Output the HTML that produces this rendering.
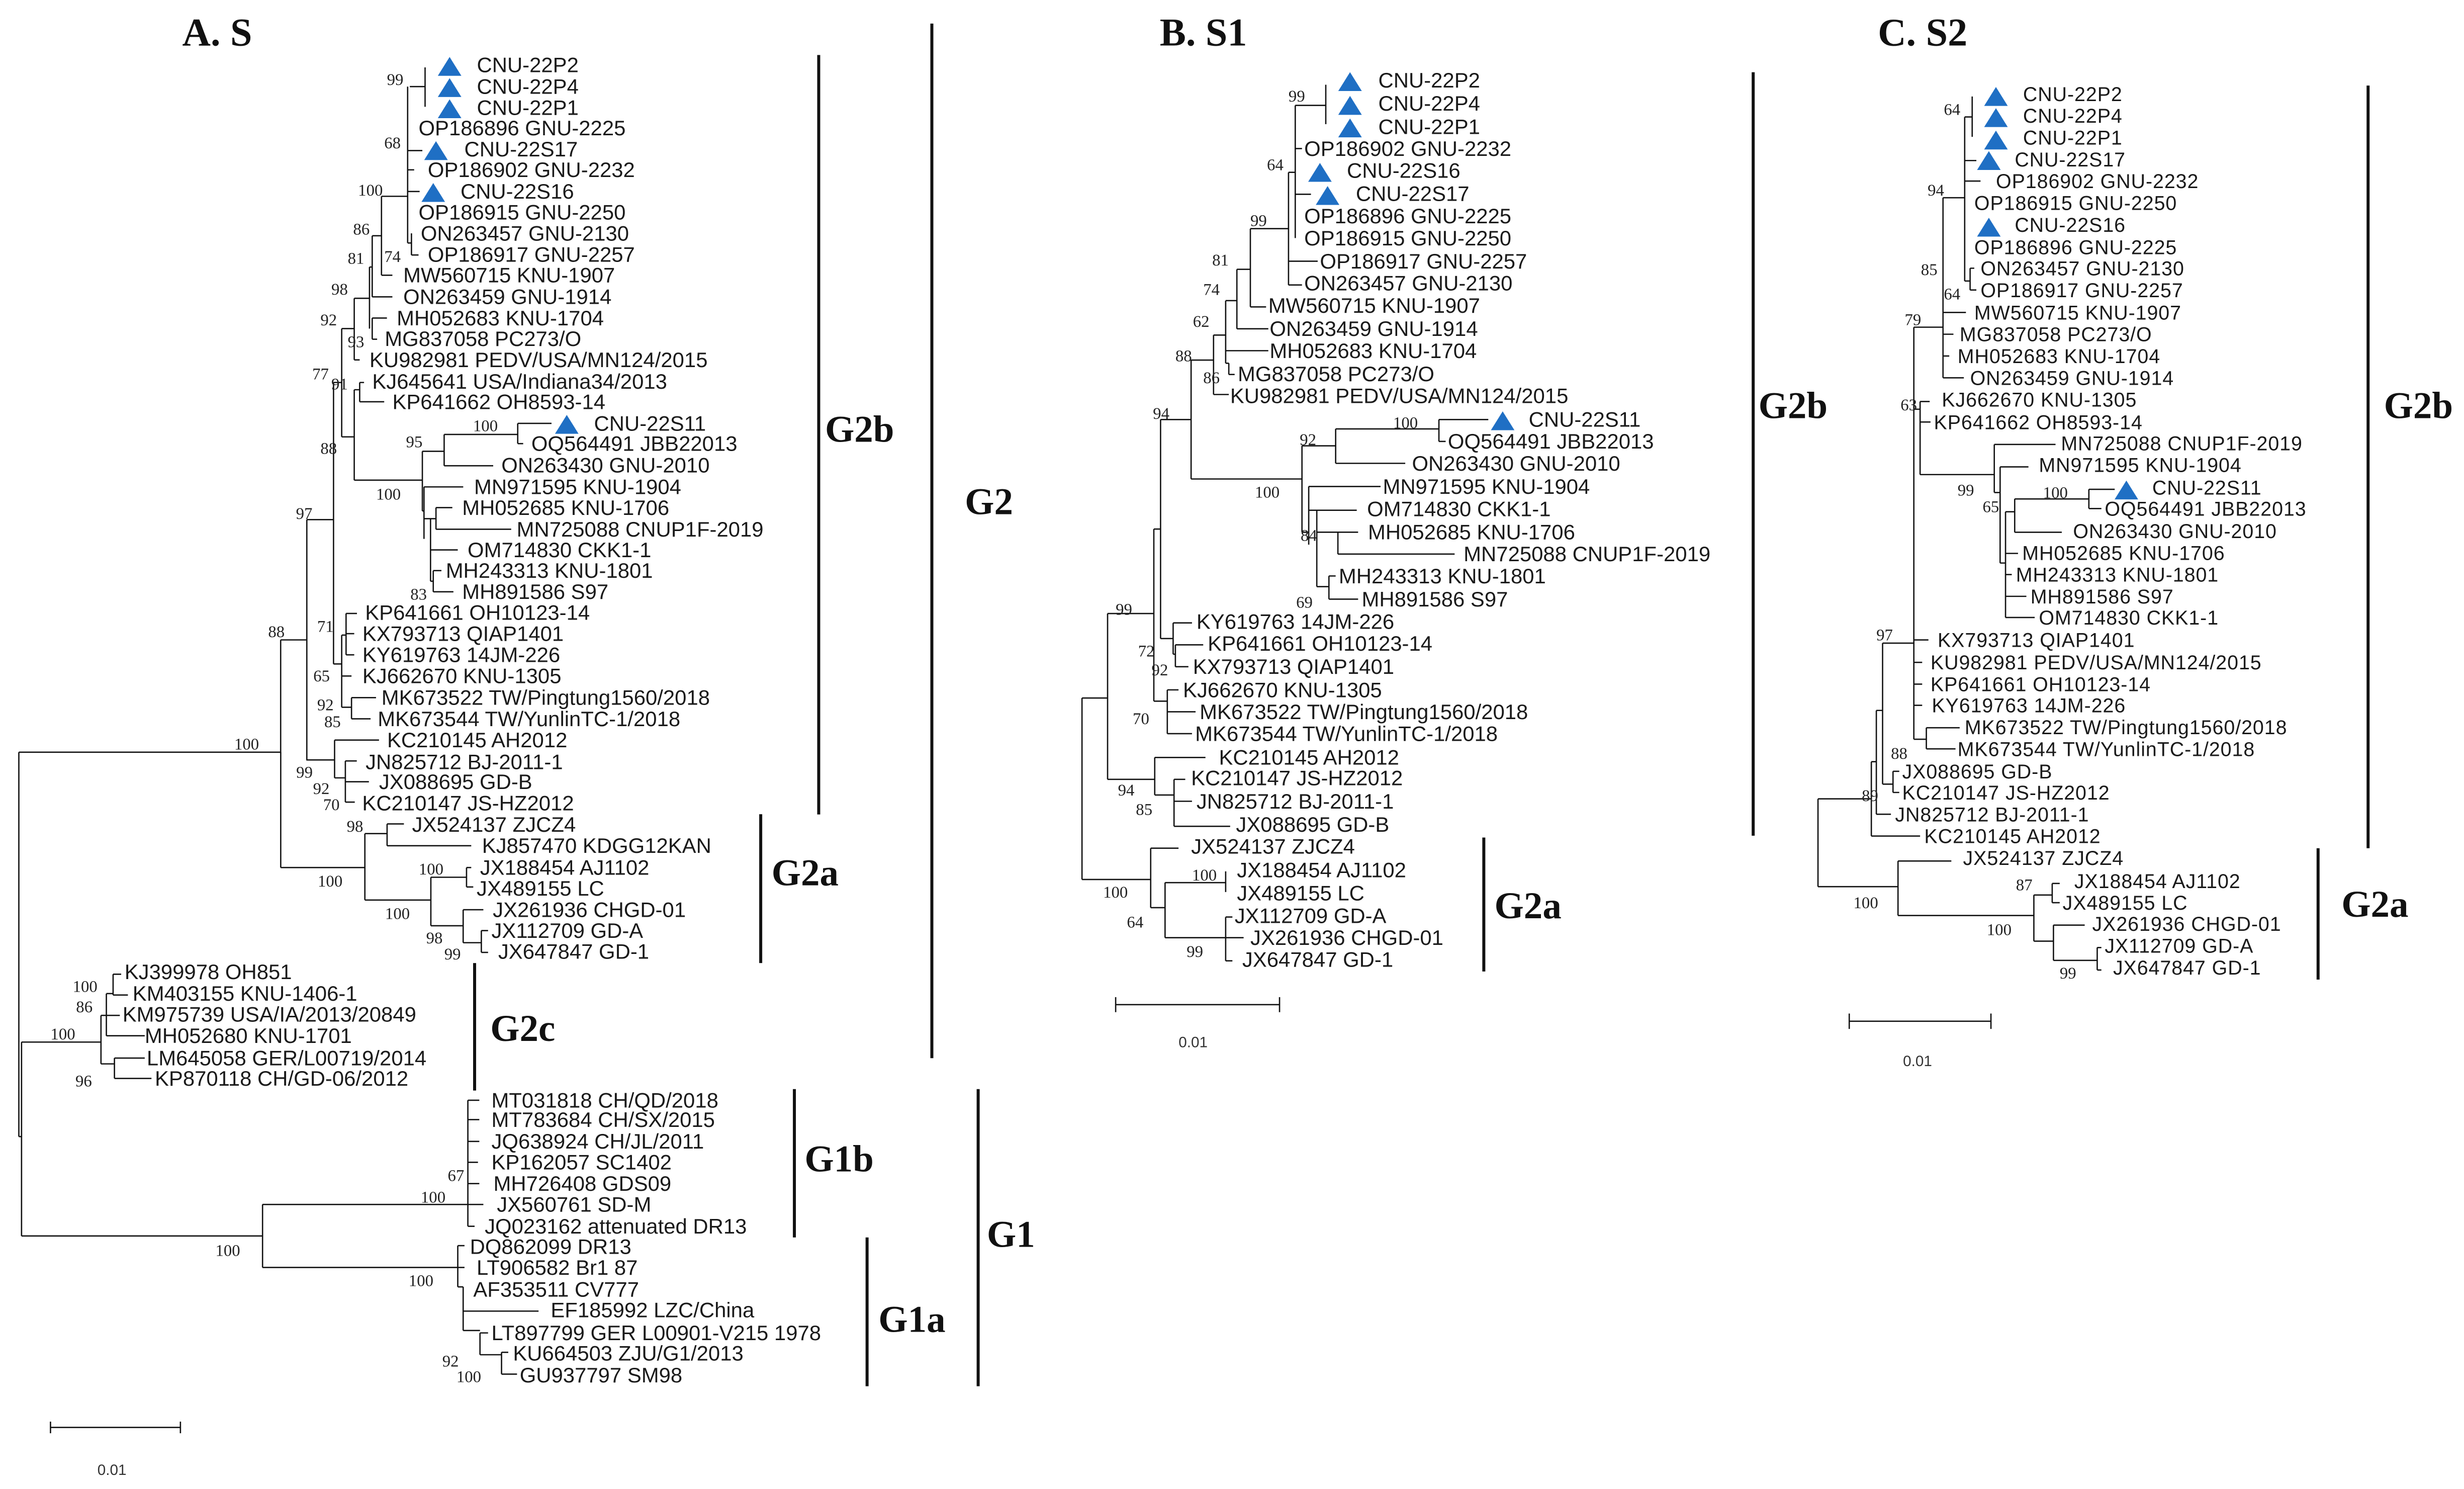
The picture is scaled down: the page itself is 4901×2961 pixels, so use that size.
<!DOCTYPE html>
<html><head><meta charset="utf-8"><style>
html,body{margin:0;padding:0;background:#fff}
svg{display:block}
path{fill:none;stroke:#111;stroke-width:2.6;vector-effect:non-scaling-stroke}
path.bar{stroke-width:6}
.t{font-family:"Liberation Sans",sans-serif;font-size:13.4px;fill:#1a1a1a}
.tc{font-family:"Liberation Sans",sans-serif;font-size:12.6px;fill:#1a1a1a;letter-spacing:0.3px}
.b{font-family:"Liberation Serif",serif;font-size:10.5px;fill:#222}
.g{font-family:"Liberation Serif",serif;font-size:24px;font-weight:bold;fill:#111}
.h{font-family:"Liberation Serif",serif;font-size:25px;font-weight:bold;fill:#111}
.s{font-family:"Liberation Sans",sans-serif;font-size:9.5px;fill:#333}
polygon{fill:#1f6fc4}
</style></head><body>
<svg width="4901" height="2961" viewBox="0 0 1568 947" preserveAspectRatio="none" xmlns="http://www.w3.org/2000/svg">
<rect width="1568" height="947" fill="#fff"/>
<!-- titles -->
<text class="h" x="116" y="29">A. S</text>
<text class="h" x="738" y="29">B. S1</text>
<text class="h" x="1195" y="29">C. S2</text>

<!-- Panel A main coord items -->
<path class="bar" d="M521 35V518 M593 15V673"/>
<text class="g" x="525" y="281">G2b</text>
<text class="g" x="614" y="327">G2</text>
<text class="g" x="491" y="563">G2a</text>
<text class="g" x="312" y="662">G2c</text>
<text class="g" x="512" y="745">G1b</text>
<text class="g" x="628" y="793">G1</text>
<text class="g" x="559" y="847">G1a</text>
<text class="s" x="62" y="938">0.01</text>
<text class="s" x="750" y="666">0.01</text>
<text class="s" x="1211" y="678">0.01</text>
<text class="g" x="1119" y="266">G2b</text>
<text class="g" x="951" y="584">G2a</text>
<text class="g" x="1517" y="266">G2b</text>
<text class="g" x="1490" y="583">G2a</text>

<!-- Panel A top (zoom1 coords) -->
<g transform="scale(0.3468 0.306)">
<path d="M780 140V222 M752 180H780 M748 180V505 M748 353H760 M748 313H775 M748 398H770 M755 485V530 M755 530H768 M748 505H755
M700 408V572 M700 408H748 M700 572H720 M683 490V617 M683 490H700 M683 617H720
M678 555V683 M678 555H683 M683 661V705 M683 661H710 M683 705H692
M650 620V748 M650 620H678 M650 748H660 M627 683V908 M627 683H650 M627 908H650
M650 810V998 M650 810H660 M660 795V835 M660 795H668 M660 835H705 M650 998H775
M775 938V1062 M775 938H815 M775 1062H778 M815 903V968 M815 903H950 M815 968H905
M950 880V922 M950 880H1012 M950 922H960
M778 1012V1120 M778 1012H850 M778 1078H790 M790 1078V1208 M790 1078H800 M800 1055V1100 M800 1055H830 M800 1100H938 M790 1143H840 M790 1208H795 M795 1186V1230 M795 1186H810 M795 1230H832
M612 795V1380 M612 795H627 M612 1380H627
M627 1320V1470 M627 1320H635 M635 1275V1361 M635 1275H655 M635 1317H650 M635 1361H650 M627 1405H645 M627 1470H645 M645 1450V1494 M645 1450H690 M645 1494H680
M563 1080V1579 M563 1080H612 M515 1330V1566 M515 1330H563"/>
<g>
<polygon transform="translate(825 138) scale(2.883 3.268)" points="-7.5,6 7.5,6 0,-6"/>
<polygon transform="translate(825 182) scale(2.883 3.268)" points="-7.5,6 7.5,6 0,-6"/>
<polygon transform="translate(825 226) scale(2.883 3.268)" points="-7.5,6 7.5,6 0,-6"/>
<polygon transform="translate(800 313) scale(2.883 3.268)" points="-7.5,6 7.5,6 0,-6"/>
<polygon transform="translate(795 400) scale(2.883 3.268)" points="-7.5,6 7.5,6 0,-6"/>
<polygon transform="translate(1040 882) scale(2.883 3.268)" points="-7.5,6 7.5,6 0,-6"/>
</g>
<text class="t" transform="translate(875 135) scale(2.883 3.268)" y="4.6">CNU-22P2</text>
<text class="t" transform="translate(875 180) scale(2.883 3.268)" y="4.6">CNU-22P4</text>
<text class="t" transform="translate(875 224) scale(2.883 3.268)" y="4.6">CNU-22P1</text>
<text class="t" transform="translate(768 266) scale(2.883 3.268)" y="4.6">OP186896 GNU-2225</text>
<text class="t" transform="translate(852 310) scale(2.883 3.268)" y="4.6">CNU-22S17</text>
<text class="t" transform="translate(785 353) scale(2.883 3.268)" y="4.6">OP186902 GNU-2232</text>
<text class="t" transform="translate(845 398) scale(2.883 3.268)" y="4.6">CNU-22S16</text>
<text class="t" transform="translate(768 441) scale(2.883 3.268)" y="4.6">OP186915 GNU-2250</text>
<text class="t" transform="translate(772 485) scale(2.883 3.268)" y="4.6">ON263457 GNU-2130</text>
<text class="t" transform="translate(785 529) scale(2.883 3.268)" y="4.6">OP186917 GNU-2257</text>
<text class="t" transform="translate(740 572) scale(2.883 3.268)" y="4.6">MW560715 KNU-1907</text>
<text class="t" transform="translate(740 617) scale(2.883 3.268)" y="4.6">ON263459 GNU-1914</text>
<text class="t" transform="translate(728 661) scale(2.883 3.268)" y="4.6">MH052683 KNU-1704</text>
<text class="t" transform="translate(706 704) scale(2.883 3.268)" y="4.6">MG837058 PC273/O</text>
<text class="t" transform="translate(678 748) scale(2.883 3.268)" y="4.6">KU982981 PEDV/USA/MN124/2015</text>
<text class="t" transform="translate(683 793) scale(2.883 3.268)" y="4.6">KJ645641 USA/Indiana34/2013</text>
<text class="t" transform="translate(720 835) scale(2.883 3.268)" y="4.6">KP641662 OH8593-14</text>
<text class="t" transform="translate(1090 880) scale(2.883 3.268)" y="4.6">CNU-22S11</text>
<text class="t" transform="translate(975 922) scale(2.883 3.268)" y="4.6">OQ564491 JBB22013</text>
<text class="t" transform="translate(920 967) scale(2.883 3.268)" y="4.6">ON263430 GNU-2010</text>
<text class="t" transform="translate(870 1012) scale(2.883 3.268)" y="4.6">MN971595 KNU-1904</text>
<text class="t" transform="translate(848 1055) scale(2.883 3.268)" y="4.6">MH052685 KNU-1706</text>
<text class="t" transform="translate(948 1100) scale(2.883 3.268)" y="4.6">MN725088 CNUP1F-2019</text>
<text class="t" transform="translate(858 1143) scale(2.883 3.268)" y="4.6">OM714830 CKK1-1</text>
<text class="t" transform="translate(818 1186) scale(2.883 3.268)" y="4.6">MH243313 KNU-1801</text>
<text class="t" transform="translate(848 1230) scale(2.883 3.268)" y="4.6">MH891586 S97</text>
<text class="t" transform="translate(670 1273) scale(2.883 3.268)" y="4.6">KP641661 OH10123-14</text>
<text class="t" transform="translate(665 1317) scale(2.883 3.268)" y="4.6">KX793713 QIAP1401</text>
<text class="t" transform="translate(665 1361) scale(2.883 3.268)" y="4.6">KY619763 14JM-226</text>
<text class="t" transform="translate(665 1405) scale(2.883 3.268)" y="4.6">KJ662670 KNU-1305</text>
<text class="t" transform="translate(700 1450) scale(2.883 3.268)" y="4.6">MK673522 TW/Pingtung1560/2018</text>
<text class="t" transform="translate(693 1494) scale(2.883 3.268)" y="4.6">MK673544 TW/YunlinTC-1/2018</text>
<text class="b" transform="translate(710 165) scale(2.883 3.268)" y="3.5">99</text>
<text class="b" transform="translate(705 297) scale(2.883 3.268)" y="3.5">68</text>
<text class="b" transform="translate(657 395) scale(2.883 3.268)" y="3.5">100</text>
<text class="b" transform="translate(648 476) scale(2.883 3.268)" y="3.5">86</text>
<text class="b" transform="translate(638 537) scale(2.883 3.268)" y="3.5">81</text>
<text class="b" transform="translate(705 533) scale(2.883 3.268)" y="3.5">74</text>
<text class="b" transform="translate(608 601) scale(2.883 3.268)" y="3.5">98</text>
<text class="b" transform="translate(588 665) scale(2.883 3.268)" y="3.5">92</text>
<text class="b" transform="translate(638 710) scale(2.883 3.268)" y="3.5">93</text>
<text class="b" transform="translate(573 777) scale(2.883 3.268)" y="3.5">77</text>
<text class="b" transform="translate(608 798) scale(2.883 3.268)" y="3.5">91</text>
<text class="b" transform="translate(588 932) scale(2.883 3.268)" y="3.5">88</text>
<text class="b" transform="translate(745 918) scale(2.883 3.268)" y="3.5">95</text>
<text class="b" transform="translate(868 885) scale(2.883 3.268)" y="3.5">100</text>
<text class="b" transform="translate(690 1027) scale(2.883 3.268)" y="3.5">100</text>
<text class="b" transform="translate(543 1067) scale(2.883 3.268)" y="3.5">97</text>
<text class="b" transform="translate(753 1235) scale(2.883 3.268)" y="3.5">83</text>
<text class="b" transform="translate(582 1302) scale(2.883 3.268)" y="3.5">71</text>
<text class="b" transform="translate(575 1405) scale(2.883 3.268)" y="3.5">65</text>
<text class="b" transform="translate(582 1465) scale(2.883 3.268)" y="3.5">92</text>
<text class="b" transform="translate(595 1500) scale(2.883 3.268)" y="3.5">85</text>
<text class="b" transform="translate(492 1313) scale(2.883 3.268)" y="3.5">88</text>
</g>

<!-- Panel A bottom (zoom2 coords) -->
<g transform="translate(0 463.9) scale(0.4284 0.3083)">
<path d="M28 47V840 M28 47H417 M28 840H32 M32 645V1045 M32 645H150 M32 1045H390
M417 47V285 M417 285H542
M455 63H497 M497 22V100 M497 22H563 M497 100H513 M513 65V150 M513 65H530 M513 108H548 M513 150H527
M542 215V352 M542 215H575 M575 195V240 M575 195H600 M575 240H700 M542 352H640 M640 305V405 M640 305H693 M693 285V325 M693 285H700 M693 325H703 M640 405H688 M688 372V440 M688 372H718 M688 440H715 M715 415V460 M715 415H725 M715 460H725
M150 590V690 M150 590H158 M158 545V632 M158 545H168 M168 505V548 M168 505H180 M168 548H190 M158 590H178 M158 632H215 M150 690H170 M170 678V720 M170 678H215 M170 720H225
M390 980V1110 M390 980H695 M695 765V1025 M695 765H712 M695 805H712 M695 850H712 M695 893H710 M695 937H712 M695 980H718 M695 1025H705 M390 1110H680 M680 1065V1150 M680 1065H690 M680 1110H690 M680 1150H688 M688 1150V1240 M688 1200H800 M688 1240H713 M713 1245V1290 M713 1245H725 M713 1290H745 M745 1285V1330 M745 1285H755 M745 1330H768
M75 1440H268 M75 1428V1452 M268 1428V1452"/>
<path class="bar" d="M1130 175V482 M705 482V745 M1180 742V1048 M1288 1048V1355 M1453 742V1355"/>
<text class="t" transform="translate(575 22) scale(2.334 3.244)" y="4.6">KC210145 AH2012</text>
<text class="t" transform="translate(543 67) scale(2.334 3.244)" y="4.6">JN825712 BJ-2011-1</text>
<text class="t" transform="translate(563 108) scale(2.334 3.244)" y="4.6">JX088695 GD-B</text>
<text class="t" transform="translate(538 152) scale(2.334 3.244)" y="4.6">KC210147 JS-HZ2012</text>
<text class="t" transform="translate(612 196) scale(2.334 3.244)" y="4.6">JX524137 ZJCZ4</text>
<text class="t" transform="translate(716 240) scale(2.334 3.244)" y="4.6">KJ857470 KDGG12KAN</text>
<text class="t" transform="translate(713 285) scale(2.334 3.244)" y="4.6">JX188454 AJ1102</text>
<text class="t" transform="translate(708 328) scale(2.334 3.244)" y="4.6">JX489155 LC</text>
<text class="t" transform="translate(732 372) scale(2.334 3.244)" y="4.6">JX261936 CHGD-01</text>
<text class="t" transform="translate(730 415) scale(2.334 3.244)" y="4.6">JX112709 GD-A</text>
<text class="t" transform="translate(740 458) scale(2.334 3.244)" y="4.6">JX647847 GD-1</text>
<text class="t" transform="translate(185 500) scale(2.334 3.244)" y="4.6">KJ399978 OH851</text>
<text class="t" transform="translate(197 545) scale(2.334 3.244)" y="4.6">KM403155 KNU-1406-1</text>
<text class="t" transform="translate(182 588) scale(2.334 3.244)" y="4.6">KM975739 USA/IA/2013/20849</text>
<text class="t" transform="translate(215 632) scale(2.334 3.244)" y="4.6">MH052680 KNU-1701</text>
<text class="t" transform="translate(218 678) scale(2.334 3.244)" y="4.6">LM645058 GER/L00719/2014</text>
<text class="t" transform="translate(230 720) scale(2.334 3.244)" y="4.6">KP870118 CH/GD-06/2012</text>
<text class="t" transform="translate(730 765) scale(2.334 3.244)" y="4.6">MT031818 CH/QD/2018</text>
<text class="t" transform="translate(730 805) scale(2.334 3.244)" y="4.6">MT783684 CH/SX/2015</text>
<text class="t" transform="translate(730 850) scale(2.334 3.244)" y="4.6">JQ638924 CH/JL/2011</text>
<text class="t" transform="translate(730 893) scale(2.334 3.244)" y="4.6">KP162057 SC1402</text>
<text class="t" transform="translate(733 937) scale(2.334 3.244)" y="4.6">MH726408 GDS09</text>
<text class="t" transform="translate(738 980) scale(2.334 3.244)" y="4.6">JX560761 SD-M</text>
<text class="t" transform="translate(720 1025) scale(2.334 3.244)" y="4.6">JQ023162 attenuated DR13</text>
<text class="t" transform="translate(698 1067) scale(2.334 3.244)" y="4.6">DQ862099 DR13</text>
<text class="t" transform="translate(708 1110) scale(2.334 3.244)" y="4.6">LT906582 Br1 87</text>
<text class="t" transform="translate(703 1155) scale(2.334 3.244)" y="4.6">AF353511 CV777</text>
<text class="t" transform="translate(818 1198) scale(2.334 3.244)" y="4.6">EF185992 LZC/China</text>
<text class="t" transform="translate(730 1245) scale(2.334 3.244)" y="4.6">LT897799 GER L00901-V215 1978</text>
<text class="t" transform="translate(762 1287) scale(2.334 3.244)" y="4.6">KU664503 ZJU/G1/2013</text>
<text class="t" transform="translate(772 1332) scale(2.334 3.244)" y="4.6">GU937797 SM98</text>
<text class="b" transform="translate(348 30) scale(2.334 3.244)" y="3.5">100</text>
<text class="b" transform="translate(440 88) scale(2.334 3.244)" y="3.5">99</text>
<text class="b" transform="translate(465 122) scale(2.334 3.244)" y="3.5">92</text>
<text class="b" transform="translate(480 155) scale(2.334 3.244)" y="3.5">70</text>
<text class="b" transform="translate(515 200) scale(2.334 3.244)" y="3.5">98</text>
<text class="b" transform="translate(472 313) scale(2.334 3.244)" y="3.5">100</text>
<text class="b" transform="translate(622 288) scale(2.334 3.244)" y="3.5">100</text>
<text class="b" transform="translate(572 380) scale(2.334 3.244)" y="3.5">100</text>
<text class="b" transform="translate(633 430) scale(2.334 3.244)" y="3.5">98</text>
<text class="b" transform="translate(660 463) scale(2.334 3.244)" y="3.5">99</text>
<text class="b" transform="translate(108 530) scale(2.334 3.244)" y="3.5">100</text>
<text class="b" transform="translate(113 572) scale(2.334 3.244)" y="3.5">86</text>
<text class="b" transform="translate(75 628) scale(2.334 3.244)" y="3.5">100</text>
<text class="b" transform="translate(112 725) scale(2.334 3.244)" y="3.5">96</text>
<text class="b" transform="translate(320 1075) scale(2.334 3.244)" y="3.5">100</text>
<text class="b" transform="translate(625 965) scale(2.334 3.244)" y="3.5">100</text>
<text class="b" transform="translate(665 920) scale(2.334 3.244)" y="3.5">67</text>
<text class="b" transform="translate(607 1137) scale(2.334 3.244)" y="3.5">100</text>
<text class="b" transform="translate(657 1303) scale(2.334 3.244)" y="3.5">92</text>
<text class="b" transform="translate(678 1335) scale(2.334 3.244)" y="3.5">100</text>
</g>

<!-- Panel B (zoom3 coords) -->
<g transform="translate(681.4 32) scale(0.2857 0.398)">
<path d="M568 55V118 M500 88H568 M500 88V300 M500 157H515 M500 230H535 M485 195H500
M485 195V375 M485 337H550 M485 375H515 M400 285V410 M400 285H485 M400 410H435
M370 350V445 M370 350H400 M370 445H440 M345 400V500 M345 400H370 M345 480H440 M345 500H352 M352 500V518 M352 518H365
M318 455V550 M318 455H345 M318 550H352 M268 495V685 M268 495H318 M268 685H515
M515 632V770 M515 632H590 M590 605V660 M590 605H820 M820 590V625 M820 590H930 M820 625H835 M590 660H745
M515 770H530 M530 697V790 M530 697H690 M530 735H548 M548 735V857 M548 735H637 M548 770H595 M595 770V805 M595 770H640 M595 805H855 M548 857H575 M575 840V877 M575 840H590 M575 877H640
M200 590V940 M200 590H268 M200 940H228 M228 915V965 M228 915H270 M228 965H233 M233 950V985 M233 950H295 M233 985H262
M185 765V1040 M185 765H200 M185 1040H215 M215 1022V1092 M215 1022H240 M215 1057H278 M215 1092H270
M82 900V1165 M82 900H185 M82 1165H187 M187 1130V1190 M187 1130H300 M187 1190H230 M230 1165V1240 M230 1165H255 M230 1200H270 M230 1240H355
M25 1035V1325 M25 1035H82 M25 1325H178
M178 1275V1370 M178 1275H240 M178 1370H210 M210 1330V1418 M210 1330H345 M345 1312V1345 M210 1418H345 M345 1385V1455 M345 1385H360 M345 1418H385 M345 1455H360
M100 1525H465 M100 1513V1537 M465 1513V1537"/>
<path class="bar" d="M1520 35V1255 M920 1258V1472"/>
<polygon transform="translate(622 50) scale(3.5 2.513)" points="-7.5,6 7.5,6 0,-6"/>
<polygon transform="translate(622 88) scale(3.5 2.513)" points="-7.5,6 7.5,6 0,-6"/>
<polygon transform="translate(622 124) scale(3.5 2.513)" points="-7.5,6 7.5,6 0,-6"/>
<polygon transform="translate(555 195) scale(3.5 2.513)" points="-7.5,6 7.5,6 0,-6"/>
<polygon transform="translate(572 232) scale(3.5 2.513)" points="-7.5,6 7.5,6 0,-6"/>
<polygon transform="translate(962 592) scale(3.5 2.513)" points="-7.5,6 7.5,6 0,-6"/>
<text class="t" transform="translate(685 48) scale(3.5 2.513)" y="4.6">CNU-22P2</text>
<text class="t" transform="translate(685 85) scale(3.5 2.513)" y="4.6">CNU-22P4</text>
<text class="t" transform="translate(685 122) scale(3.5 2.513)" y="4.6">CNU-22P1</text>
<text class="t" transform="translate(520 157) scale(3.5 2.513)" y="4.6">OP186902 GNU-2232</text>
<text class="t" transform="translate(615 192) scale(3.5 2.513)" y="4.6">CNU-22S16</text>
<text class="t" transform="translate(635 229) scale(3.5 2.513)" y="4.6">CNU-22S17</text>
<text class="t" transform="translate(520 265) scale(3.5 2.513)" y="4.6">OP186896 GNU-2225</text>
<text class="t" transform="translate(520 300) scale(3.5 2.513)" y="4.6">OP186915 GNU-2250</text>
<text class="t" transform="translate(555 337) scale(3.5 2.513)" y="4.6">OP186917 GNU-2257</text>
<text class="t" transform="translate(520 372) scale(3.5 2.513)" y="4.6">ON263457 GNU-2130</text>
<text class="t" transform="translate(440 408) scale(3.5 2.513)" y="4.6">MW560715 KNU-1907</text>
<text class="t" transform="translate(443 445) scale(3.5 2.513)" y="4.6">ON263459 GNU-1914</text>
<text class="t" transform="translate(443 480) scale(3.5 2.513)" y="4.6">MH052683 KNU-1704</text>
<text class="t" transform="translate(372 517) scale(3.5 2.513)" y="4.6">MG837058 PC273/O</text>
<text class="t" transform="translate(355 552) scale(3.5 2.513)" y="4.6">KU982981 PEDV/USA/MN124/2015</text>
<text class="t" transform="translate(1020 590) scale(3.5 2.513)" y="4.6">CNU-22S11</text>
<text class="t" transform="translate(840 625) scale(3.5 2.513)" y="4.6">OQ564491 JBB22013</text>
<text class="t" transform="translate(760 660) scale(3.5 2.513)" y="4.6">ON263430 GNU-2010</text>
<text class="t" transform="translate(695 697) scale(3.5 2.513)" y="4.6">MN971595 KNU-1904</text>
<text class="t" transform="translate(660 733) scale(3.5 2.513)" y="4.6">OM714830 CKK1-1</text>
<text class="t" transform="translate(662 770) scale(3.5 2.513)" y="4.6">MH052685 KNU-1706</text>
<text class="t" transform="translate(875 805) scale(3.5 2.513)" y="4.6">MN725088 CNUP1F-2019</text>
<text class="t" transform="translate(597 840) scale(3.5 2.513)" y="4.6">MH243313 KNU-1801</text>
<text class="t" transform="translate(648 877) scale(3.5 2.513)" y="4.6">MH891586 S97</text>
<text class="t" transform="translate(280 913) scale(3.5 2.513)" y="4.6">KY619763 14JM-226</text>
<text class="t" transform="translate(305 948) scale(3.5 2.513)" y="4.6">KP641661 OH10123-14</text>
<text class="t" transform="translate(272 985) scale(3.5 2.513)" y="4.6">KX793713 QIAP1401</text>
<text class="t" transform="translate(250 1022) scale(3.5 2.513)" y="4.6">KJ662670 KNU-1305</text>
<text class="t" transform="translate(287 1057) scale(3.5 2.513)" y="4.6">MK673522 TW/Pingtung1560/2018</text>
<text class="t" transform="translate(277 1092) scale(3.5 2.513)" y="4.6">MK673544 TW/YunlinTC-1/2018</text>
<text class="t" transform="translate(330 1130) scale(3.5 2.513)" y="4.6">KC210145 AH2012</text>
<text class="t" transform="translate(268 1163) scale(3.5 2.513)" y="4.6">KC210147 JS-HZ2012</text>
<text class="t" transform="translate(280 1200) scale(3.5 2.513)" y="4.6">JN825712 BJ-2011-1</text>
<text class="t" transform="translate(368 1237) scale(3.5 2.513)" y="4.6">JX088695 GD-B</text>
<text class="t" transform="translate(268 1272) scale(3.5 2.513)" y="4.6">JX524137 ZJCZ4</text>
<text class="t" transform="translate(370 1310) scale(3.5 2.513)" y="4.6">JX188454 AJ1102</text>
<text class="t" transform="translate(370 1347) scale(3.5 2.513)" y="4.6">JX489155 LC</text>
<text class="t" transform="translate(365 1383) scale(3.5 2.513)" y="4.6">JX112709 GD-A</text>
<text class="t" transform="translate(400 1418) scale(3.5 2.513)" y="4.6">JX261936 CHGD-01</text>
<text class="t" transform="translate(382 1453) scale(3.5 2.513)" y="4.6">JX647847 GD-1</text>
<text class="b" transform="translate(485 73) scale(3.5 2.513)" y="3.5">99</text>
<text class="b" transform="translate(437 183) scale(3.5 2.513)" y="3.5">64</text>
<text class="b" transform="translate(400 272) scale(3.5 2.513)" y="3.5">99</text>
<text class="b" transform="translate(315 335) scale(3.5 2.513)" y="3.5">81</text>
<text class="b" transform="translate(295 382) scale(3.5 2.513)" y="3.5">74</text>
<text class="b" transform="translate(272 433) scale(3.5 2.513)" y="3.5">62</text>
<text class="b" transform="translate(233 488) scale(3.5 2.513)" y="3.5">88</text>
<text class="b" transform="translate(295 523) scale(3.5 2.513)" y="3.5">86</text>
<text class="b" transform="translate(183 580) scale(3.5 2.513)" y="3.5">94</text>
<text class="b" transform="translate(718 595) scale(3.5 2.513)" y="3.5">100</text>
<text class="b" transform="translate(510 622) scale(3.5 2.513)" y="3.5">92</text>
<text class="b" transform="translate(410 706) scale(3.5 2.513)" y="3.5">100</text>
<text class="b" transform="translate(512 775) scale(3.5 2.513)" y="3.5">84</text>
<text class="b" transform="translate(502 882) scale(3.5 2.513)" y="3.5">69</text>
<text class="b" transform="translate(100 893) scale(3.5 2.513)" y="3.5">99</text>
<text class="b" transform="translate(150 960) scale(3.5 2.513)" y="3.5">72</text>
<text class="b" transform="translate(180 990) scale(3.5 2.513)" y="3.5">92</text>
<text class="b" transform="translate(138 1068) scale(3.5 2.513)" y="3.5">70</text>
<text class="b" transform="translate(105 1182) scale(3.5 2.513)" y="3.5">94</text>
<text class="b" transform="translate(145 1213) scale(3.5 2.513)" y="3.5">85</text>
<text class="b" transform="translate(270 1318) scale(3.5 2.513)" y="3.5">100</text>
<text class="b" transform="translate(72 1345) scale(3.5 2.513)" y="3.5">100</text>
<text class="b" transform="translate(125 1393) scale(3.5 2.513)" y="3.5">64</text>
<text class="b" transform="translate(258 1440) scale(3.5 2.513)" y="3.5">99</text>
</g>

<!-- Panel C (zoom4 coords) -->
<g transform="translate(1151.6 32) scale(0.2652 0.4076)">
<path d="M390 72V135 M372 104H390 M372 104V360 M372 172H400 M372 204H410 M372 360H385 M385 340V374 M385 340H395 M385 374H400
M320 230V511 M320 230H372 M320 409H375 M320 443H345 M320 477H335 M320 511H370
M250 432V1075 M250 432H320 M250 560H265 M265 548V662 M265 548H288 M265 580H290 M265 662H443
M443 615V690 M443 615H590 M443 690H457 M457 650V800 M457 650H525 M457 800H470 M470 720V885 M470 720H492 M492 700V752 M492 700H670 M670 685V715 M670 685H732 M670 715H700 M492 752H605 M470 785H500 M470 818H485 M470 852H520 M470 885H540
M250 920H285 M250 955H270 M250 989H270 M250 1022H270 M250 1075H280 M280 1057V1090 M280 1057H360 M280 1090H350
M175 925V1145 M175 925H250 M175 1145H200 M200 1125V1158 M200 1125H215 M200 1158H215
M160 1030V1192 M160 1030H175 M160 1192H195 M148 1110V1226 M148 1110H160 M148 1226H265
M20 1168V1305 M20 1168H148 M20 1305H212
M212 1265V1350 M212 1265H340 M212 1350H538 M538 1318V1390 M538 1318H582 M582 1300V1330 M582 1300H600 M582 1330H600 M538 1390H585 M585 1365V1420 M585 1365H660 M585 1420H690 M690 1400V1435 M690 1400H700 M690 1435H700
M95 1515H435 M95 1503V1527 M435 1503V1527"/>
<path class="bar" d="M1340 55V1245 M1220 1245V1450"/>
<polygon transform="translate(447 72) scale(3.771 2.453)" points="-7.5,6 7.5,6 0,-6"/>
<polygon transform="translate(447 105) scale(3.771 2.453)" points="-7.5,6 7.5,6 0,-6"/>
<polygon transform="translate(447 140) scale(3.771 2.453)" points="-7.5,6 7.5,6 0,-6"/>
<polygon transform="translate(430 172) scale(3.771 2.453)" points="-7.5,6 7.5,6 0,-6"/>
<polygon transform="translate(430 276) scale(3.771 2.453)" points="-7.5,6 7.5,6 0,-6"/>
<polygon transform="translate(760 686) scale(3.771 2.453)" points="-7.5,6 7.5,6 0,-6"/>
<text class="tc" transform="translate(512 68) scale(3.771 2.453)" y="4.5">CNU-22P2</text>
<text class="tc" transform="translate(512 102) scale(3.771 2.453)" y="4.5">CNU-22P4</text>
<text class="tc" transform="translate(512 136) scale(3.771 2.453)" y="4.5">CNU-22P1</text>
<text class="tc" transform="translate(492 170) scale(3.771 2.453)" y="4.5">CNU-22S17</text>
<text class="tc" transform="translate(447 204) scale(3.771 2.453)" y="4.5">OP186902 GNU-2232</text>
<text class="tc" transform="translate(395 238) scale(3.771 2.453)" y="4.5">OP186915 GNU-2250</text>
<text class="tc" transform="translate(492 272) scale(3.771 2.453)" y="4.5">CNU-22S16</text>
<text class="tc" transform="translate(395 307) scale(3.771 2.453)" y="4.5">OP186896 GNU-2225</text>
<text class="tc" transform="translate(410 340) scale(3.771 2.453)" y="4.5">ON263457 GNU-2130</text>
<text class="tc" transform="translate(410 374) scale(3.771 2.453)" y="4.5">OP186917 GNU-2257</text>
<text class="tc" transform="translate(395 409) scale(3.771 2.453)" y="4.5">MW560715 KNU-1907</text>
<text class="tc" transform="translate(360 443) scale(3.771 2.453)" y="4.5">MG837058 PC273/O</text>
<text class="tc" transform="translate(355 477) scale(3.771 2.453)" y="4.5">MH052683 KNU-1704</text>
<text class="tc" transform="translate(385 511) scale(3.771 2.453)" y="4.5">ON263459 GNU-1914</text>
<text class="tc" transform="translate(317 545) scale(3.771 2.453)" y="4.5">KJ662670 KNU-1305</text>
<text class="tc" transform="translate(298 580) scale(3.771 2.453)" y="4.5">KP641662 OH8593-14</text>
<text class="tc" transform="translate(603 613) scale(3.771 2.453)" y="4.5">MN725088 CNUP1F-2019</text>
<text class="tc" transform="translate(550 647) scale(3.771 2.453)" y="4.5">MN971595 KNU-1904</text>
<text class="tc" transform="translate(822 682) scale(3.771 2.453)" y="4.5">CNU-22S11</text>
<text class="tc" transform="translate(708 715) scale(3.771 2.453)" y="4.5">OQ564491 JBB22013</text>
<text class="tc" transform="translate(632 750) scale(3.771 2.453)" y="4.5">ON263430 GNU-2010</text>
<text class="tc" transform="translate(510 784) scale(3.771 2.453)" y="4.5">MH052685 KNU-1706</text>
<text class="tc" transform="translate(495 818) scale(3.771 2.453)" y="4.5">MH243313 KNU-1801</text>
<text class="tc" transform="translate(530 852) scale(3.771 2.453)" y="4.5">MH891586 S97</text>
<text class="tc" transform="translate(550 885) scale(3.771 2.453)" y="4.5">OM714830 CKK1-1</text>
<text class="tc" transform="translate(307 920) scale(3.771 2.453)" y="4.5">KX793713 QIAP1401</text>
<text class="tc" transform="translate(290 955) scale(3.771 2.453)" y="4.5">KU982981 PEDV/USA/MN124/2015</text>
<text class="tc" transform="translate(290 989) scale(3.771 2.453)" y="4.5">KP641661 OH10123-14</text>
<text class="tc" transform="translate(293 1022) scale(3.771 2.453)" y="4.5">KY619763 14JM-226</text>
<text class="tc" transform="translate(372 1056) scale(3.771 2.453)" y="4.5">MK673522 TW/Pingtung1560/2018</text>
<text class="tc" transform="translate(355 1090) scale(3.771 2.453)" y="4.5">MK673544 TW/YunlinTC-1/2018</text>
<text class="tc" transform="translate(222 1125) scale(3.771 2.453)" y="4.5">JX088695 GD-B</text>
<text class="tc" transform="translate(222 1158) scale(3.771 2.453)" y="4.5">KC210147 JS-HZ2012</text>
<text class="tc" transform="translate(205 1192) scale(3.771 2.453)" y="4.5">JN825712 BJ-2011-1</text>
<text class="tc" transform="translate(275 1226) scale(3.771 2.453)" y="4.5">KC210145 AH2012</text>
<text class="tc" transform="translate(368 1260) scale(3.771 2.453)" y="4.5">JX524137 ZJCZ4</text>
<text class="tc" transform="translate(635 1296) scale(3.771 2.453)" y="4.5">JX188454 AJ1102</text>
<text class="tc" transform="translate(607 1330) scale(3.771 2.453)" y="4.5">JX489155 LC</text>
<text class="tc" transform="translate(678 1363) scale(3.771 2.453)" y="4.5">JX261936 CHGD-01</text>
<text class="tc" transform="translate(708 1397) scale(3.771 2.453)" y="4.5">JX112709 GD-A</text>
<text class="tc" transform="translate(728 1431) scale(3.771 2.453)" y="4.5">JX647847 GD-1</text>
<text class="b" transform="translate(322 92) scale(3.771 2.453)" y="3.5">64</text>
<text class="b" transform="translate(283 218) scale(3.771 2.453)" y="3.5">94</text>
<text class="b" transform="translate(267 342) scale(3.771 2.453)" y="3.5">85</text>
<text class="b" transform="translate(322 380) scale(3.771 2.453)" y="3.5">64</text>
<text class="b" transform="translate(228 420) scale(3.771 2.453)" y="3.5">79</text>
<text class="b" transform="translate(218 553) scale(3.771 2.453)" y="3.5">63</text>
<text class="b" transform="translate(355 686) scale(3.771 2.453)" y="3.5">99</text>
<text class="b" transform="translate(415 712) scale(3.771 2.453)" y="3.5">65</text>
<text class="b" transform="translate(560 690) scale(3.771 2.453)" y="3.5">100</text>
<text class="b" transform="translate(160 912) scale(3.771 2.453)" y="3.5">97</text>
<text class="b" transform="translate(195 1097) scale(3.771 2.453)" y="3.5">88</text>
<text class="b" transform="translate(125 1163) scale(3.771 2.453)" y="3.5">89</text>
<text class="b" transform="translate(495 1302) scale(3.771 2.453)" y="3.5">87</text>
<text class="b" transform="translate(425 1372) scale(3.771 2.453)" y="3.5">100</text>
<text class="b" transform="translate(105 1330) scale(3.771 2.453)" y="3.5">100</text>
<text class="b" transform="translate(600 1440) scale(3.771 2.453)" y="3.5">99</text>
</g>
</svg>
</body></html>
